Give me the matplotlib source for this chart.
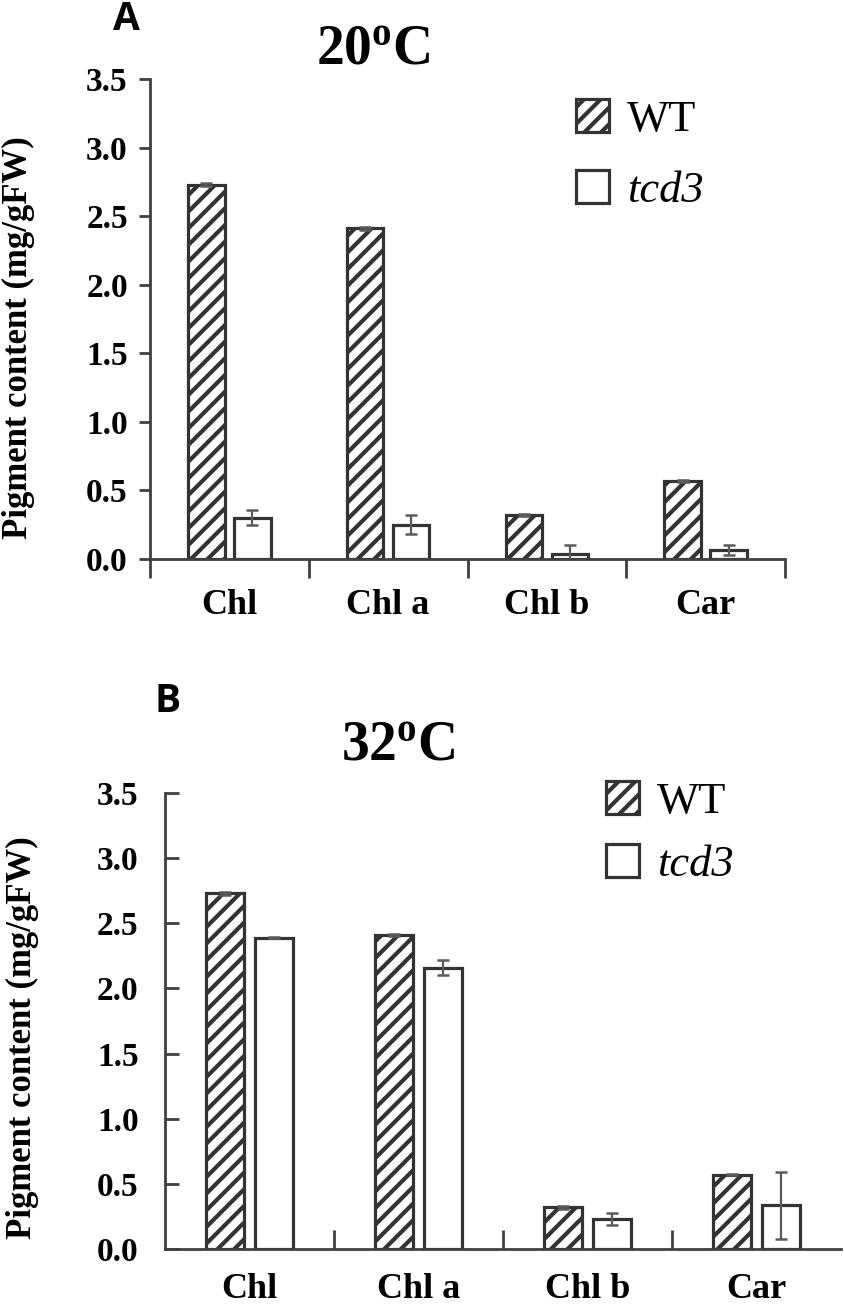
import matplotlib
matplotlib.use("Agg")
import matplotlib.pyplot as plt
import numpy as np

categories = ["Chl", "Chl a", "Chl b", "Car"]
series = ["WT", "tcd3"]

wt_20 = [2.73, 2.41, 0.32, 0.57]
wt_20_err = [0.01, 0.01, 0.01, 0.005]
tcd3_20 = [0.30, 0.25, 0.04, 0.065]
tcd3_20_err = [0.055, 0.07, 0.06, 0.035]

wt_32 = [2.73, 2.41, 0.32, 0.57]
wt_32_err = [0.01, 0.01, 0.01, 0.005]
tcd3_32 = [2.39, 2.16, 0.23, 0.335]
tcd3_32_err = [0.005, 0.055, 0.045, 0.255]

yticks = [0.0, 0.5, 1.0, 1.5, 2.0, 2.5, 3.0, 3.5]
titles = ["20$^{\\mathbf{o}}$C", "32$^{\\mathbf{o}}$C"]
panel_labels = ["A", "B"]
ylabel = "Pigment content (mg/gFW)"

plt.rcParams['mathtext.fontset'] = 'custom'
plt.rcParams['mathtext.rm'] = 'Liberation Serif'
plt.rcParams['mathtext.bf'] = 'Liberation Serif:bold'
plt.rcParams['mathtext.it'] = 'Liberation Serif:italic'
plt.rcParams['hatch.linewidth'] = 3.0

W, H = 844, 1308
fig = plt.figure(figsize=(W / 100, H / 100), dpi=100)

edge = "#333333"
axcol = "#404040"
errcol = "#5a5a5a"
serif = "Liberation Serif"


def fx(px):
    return px / W


def fy(py):
    return 1 - py / H


def draw_panel(rect, wt, wte, td, tde, tick_dir, ylab_pad, title, title_xy,
               label, label_xy, ylab_xy, leg_xy, leg_space, cat_pad, xt_ticks):
    ax = fig.add_axes(rect)
    x = np.arange(len(categories)) + 0.5
    w = 0.23
    off = 0.145
    b1 = ax.bar(x - off, wt, w, facecolor="white", edgecolor=edge, linewidth=2.3,
                hatch="//", label=series[0], zorder=2)
    b2 = ax.bar(x + off, td, w, facecolor="white", edgecolor=edge, linewidth=2.3,
                label=series[1], zorder=2)
    ax.errorbar(x - off, wt, yerr=wte, fmt="none", ecolor=errcol, elinewidth=1.6,
                capsize=4.5, capthick=1.8, zorder=3)
    ax.errorbar(x + off, td, yerr=tde, fmt="none", ecolor=errcol, elinewidth=1.6,
                capsize=4.5, capthick=1.8, zorder=3)
    ax.set_xlim(0, 4)
    ax.set_ylim(0, 3.5)
    for s in ["top", "right"]:
        ax.spines[s].set_visible(False)
    for s in ["left", "bottom"]:
        ax.spines[s].set_color(axcol)
        ax.spines[s].set_linewidth(2.0)
    ax.set_yticks(yticks)
    ax.set_yticklabels([f"{v:.1f}" for v in yticks], fontfamily=serif,
                       fontweight="bold", fontsize=24)
    ax.tick_params(axis="y", direction=tick_dir, length=8 if tick_dir == "out" else 10,
                   width=2.0, color=axcol, pad=ylab_pad)
    ax.set_xticks(xt_ticks)
    ax.set_xticklabels([])
    ax.tick_params(axis="x", direction=tick_dir, length=14, width=2.0, color=axcol)
    for xi, c in zip(x, categories):
        ax.annotate(c, xy=(xi, 0), xycoords=("data", "axes fraction"),
                    xytext=(0, -cat_pad), textcoords="offset pixels",
                    ha="center", va="center", fontfamily=serif,
                    fontweight="bold", fontsize=26)
    fig.text(fx(title_xy[0]), fy(title_xy[1]), title, ha="center", va="center",
             fontfamily=serif, fontweight="bold", fontsize=40)
    fig.text(fx(label_xy[0]), fy(label_xy[1]), label, ha="center", va="center",
             fontfamily="Open Sans", fontweight="bold", fontsize=28)
    fig.text(fx(ylab_xy[0]), fy(ylab_xy[1]), ylabel, ha="center", va="center",
             rotation=90, fontfamily=serif, fontweight="bold", fontsize=25)
    leg = ax.legend(handles=[b1, b2], loc="upper left",
                    bbox_to_anchor=(fx(leg_xy[0]), fy(leg_xy[1])),
                    bbox_transform=fig.transFigure, frameon=False,
                    borderpad=0, borderaxespad=0, handlelength=0.75,
                    handleheight=0.75, handletextpad=0.4,
                    labelspacing=leg_space, prop={"family": serif, "size": 32})
    leg.get_texts()[1].set_fontstyle("italic")
    return ax


draw_panel([fx(150), fy(559), fx(785) - fx(150), fy(79) - fy(559)],
           wt_20, wt_20_err, tcd3_20, tcd3_20_err, "out", 8,
           titles[0], (373, 50), panel_labels[0], (126, 20), (18, 338),
           (576, 99), 0.69, 47, [0, 1, 2, 3, 4])

draw_panel([fx(165), fy(1249), fx(841) - fx(165), fy(793) - fy(1249)],
           wt_32, wt_32_err, tcd3_32, tcd3_32_err, "in", 19,
           titles[1], (398, 745), panel_labels[1], (168, 702), (22, 1038),
           (606, 781), 0.5, 41, [1, 2, 3])

fig.savefig("out.png", dpi=100)
